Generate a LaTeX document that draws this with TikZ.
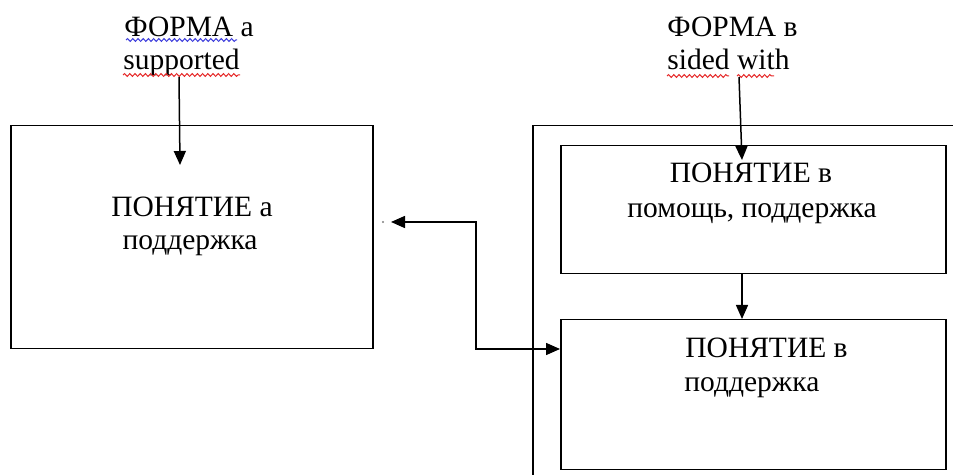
\documentclass[tikz,border=0pt]{standalone}
\usepackage{fontspec}
\setmainfont{Liberation Serif}
\newfontfamily\timesfont{Liberation Serif}
\usetikzlibrary{arrows.meta,decorations.pathmorphing}
\definecolor{spellred}{RGB}{230,40,40}
\definecolor{spellblue}{RGB}{60,60,220}
\tikzset{
  txt/.style={inner sep=0pt, font=\timesfont\fontsize{14.75}{17}\selectfont},
  frame/.style={draw, line width=0.75pt, inner sep=0pt, rectangle, anchor=north west},
  arr/.style={line width=0.75pt, -{Triangle[length=7pt,width=6pt]}},
  biarr/.style={line width=0.75pt, {Triangle[length=7pt,width=6pt]}-{Triangle[length=7pt,width=6pt]}},
  squig/.style={line width=0.5pt, decorate, decoration={snake, segment length=2.6pt, amplitude=0.7pt}},
}
\begin{document}
\begin{tikzpicture}[x=0.5pt,y=-0.5pt]
\useasboundingbox (0,0) rectangle (953,475);
\clip (0,0) rectangle (953,475);
\fill[white] (0,0) rectangle (953,475);
% boxes
\node[frame, minimum width=181pt, minimum height=111.5pt] (L) at (10,125) {};
\node[frame, minimum width=216pt, minimum height=182pt] (R) at (532,125) {};
\node[frame, minimum width=192.5pt, minimum height=64pt] (B1) at (560,145) {};
\node[frame, minimum width=192.5pt, minimum height=75pt] (B2) at (560,319) {};
% texts
\node[txt, anchor=base west] (fa1) at (124,37) {ФОРМА a};
\node[txt, anchor=base west] (fa2) at (123,70) {supported};
\node[txt, anchor=base west] (fb1) at (667,37) {ФОРМА в};
\node[txt, anchor=base west] (fb2) at (667,70) {sided with};
\node[txt, anchor=base] (la1) at (192,217) {ПОНЯТИЕ а};
\node[txt, anchor=base] (la2) at (190,250) {поддержка};
\node[txt, anchor=base] (b1a) at (751,183) {ПОНЯТИЕ в};
\node[txt, anchor=base] (b1b) at (752,218) {помощь, поддержка};
\node[txt, anchor=base west] (b2a) at (685,358) {ПОНЯТИЕ в};
\node[txt, anchor=base west] (b2b) at (684,392) {поддержка};
% spell-check underlines
\draw[squig, spellblue] (126,40) -- (237,40);
\draw[squig, spellred] (123,75) -- (240,75);
\draw[squig, spellred] (667,76) -- (729,76);
\draw[squig, spellred] (737,76) -- (774,76);
% connectors
\coordinate (sa) at (179,77);
\coordinate (ta) at (180,165);
\draw[arr] (sa) -- (ta);
\coordinate (sb) at (739,77);
\coordinate (tb) at (742,160);
\draw[arr] (sb) -- (tb);
\coordinate (cx) at (742,0);
\draw[arr] (B1.south -| cx) -- (B2.north -| cx);
\coordinate (lt) at (391,222);
\coordinate (rt) at (560,349);
\draw[biarr] (lt) -- (476,222) -- (476,349) -- (B2.west |- rt);
\fill[gray] (383,222) circle (0.6pt);
\end{tikzpicture}
\end{document}
